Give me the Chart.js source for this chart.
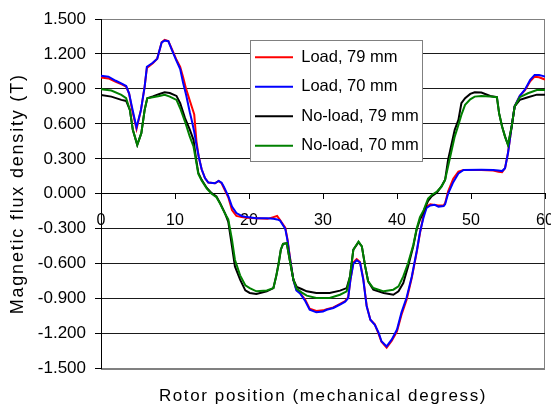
<!DOCTYPE html>
<html><head><meta charset="utf-8">
<script src="https://cdn.jsdelivr.net/npm/chart.js@4.4.1/dist/chart.umd.min.js"></script>
<style>html,body{margin:0;padding:0;background:#fff;}canvas{display:block;}</style>
</head><body>
<canvas id="c" width="551" height="411"></canvas>
<script>
const seriesNames = ['Load, 79 mm', 'Load, 70 mm', 'No-load, 79 mm', 'No-load, 70 mm'];
const xTitle = 'Rotor position (mechanical degress)';
const yTitle = 'Magnetic flux density (T)';
const xTicks = [0, 10, 20, 30, 40, 50, 60];
const yTicks = [-1.5, -1.2, -0.9, -0.6, -0.3, 0, 0.3, 0.6, 0.9, 1.2, 1.5];

const loadAngles = [0,1,2,2.8,3.4,3.8,4.2,4.8,5.4,5.9, 6.2,7,7.6,8.2,8.6,9.1,9.6,10.2,10.7,11.1, 11.5,12,12.3,12.6,12.9,13.2,13.6,14.05,14.5,15.4, 15.9,16.3,16.6,17.2,17.7,18.3,19,19.7,21,22.5, 23.3,23.8,24.2,24.9,25.2,25.5,26,26.4,26.9,27.6, 28.2,29.1,30,30.5,31.4,32.3,33,33.4,33.7,34.1, 34.55,35,35.45,35.9,36.4,37,37.5,37.9,38.6,39.3, 40,40.6,41.3,42,42.7,43.1,43.6,44,44.5,45.1, 45.6,46.3,46.5,46.9,47.6,48.3,49,51.4,53,53.7, 54.2,54.6,55,55.5,55.9,56.6,57.3,58,58.6,59.2, 59.8,60];
const load79 = [0.997,0.99,0.96,0.94,0.92,0.86,0.72,0.555,0.72,0.92, 1.08,1.12,1.16,1.30,1.32,1.31,1.24,1.15,1.09,1.0, 0.9,0.8,0.74,0.68,0.45,0.32,0.21,0.135,0.097,0.09, 0.11,0.09,0.05,-0.03,-0.14,-0.19,-0.2,-0.205,-0.21,-0.215, -0.2,-0.19,-0.225,-0.29,-0.39,-0.53,-0.74,-0.82,-0.85,-0.91, -0.985,-1.005,-1.0,-0.99,-0.975,-0.945,-0.92,-0.89,-0.74,-0.59, -0.56,-0.585,-0.73,-0.96,-1.08,-1.12,-1.2,-1.27,-1.32,-1.26, -1.18,-1.04,-0.91,-0.72,-0.49,-0.34,-0.18,-0.11,-0.09,-0.095, -0.1,-0.1,-0.08,0.02,0.13,0.19,0.205,0.205,0.2,0.19, 0.185,0.22,0.35,0.58,0.75,0.84,0.89,0.965,1.005,1.0, 0.985,0.98];
const load70 = [1.014,1.005,0.97,0.945,0.925,0.86,0.74,0.57,0.72,0.92, 1.09,1.125,1.16,1.30,1.315,1.31,1.23,1.14,1.07,0.95, 0.85,0.70,0.62,0.53,0.42,0.32,0.21,0.135,0.097,0.09, 0.11,0.095,0.06,-0.02,-0.11,-0.165,-0.19,-0.2,-0.21,-0.21, -0.215,-0.22,-0.23,-0.3,-0.4,-0.54,-0.74,-0.83,-0.855,-0.92, -0.995,-1.017,-1.01,-0.995,-0.98,-0.95,-0.925,-0.895,-0.74,-0.6, -0.57,-0.59,-0.74,-0.965,-1.08,-1.125,-1.19,-1.265,-1.31,-1.25, -1.165,-1.02,-0.89,-0.71,-0.48,-0.33,-0.2,-0.12,-0.1,-0.095, -0.11,-0.105,-0.09,0.0,0.10,0.175,0.205,0.206,0.205,0.2, 0.195,0.22,0.35,0.58,0.75,0.84,0.895,0.977,1.02,1.02, 1.01,1.005];

const noLoadAngles = [0,1.4,2.75,3.4,3.9,4.3,4.9,5.45,5.9,6.25, 7,7.9,8.6,9.3,10.2,10.7,11.35,12,12.5,12.85, 13.15,13.6,14.3,14.95,15.6,16.1,16.75,17.2,17.7,18.1, 18.8,19.5,20.1,21,22.4,23.3,23.7,24,24.3,24.6, 25.1,25.5,26,26.45,27.1,27.8,29.1,30.9,32.3,33.2, 33.65,34.1,34.8,35.25,35.7,36.1,36.8,38.2,39.5,40.2, 40.85,41.5,42.2,42.65,43.1,43.6,44.2,44.7,45.4,46, 46.5,46.9,47.4,47.8,48.3,48.7,49.2,49.9,50.5,51.4, 52.6,53.5,53.8,54.2,54.6,55,55.5,55.9,56.6,57.7, 58.9,60];
const noLoad79 = [0.849,0.834,0.806,0.797,0.72,0.55,0.42,0.52,0.72,0.82, 0.835,0.857,0.871,0.865,0.84,0.777,0.649,0.55,0.463,0.3, 0.18,0.12,0.05,0.006,-0.023,-0.08,-0.166,-0.24,-0.45,-0.623, -0.737,-0.829,-0.851,-0.86,-0.837,-0.809,-0.7,-0.6,-0.48,-0.43, -0.423,-0.566,-0.737,-0.8,-0.817,-0.837,-0.851,-0.851,-0.831,-0.809, -0.709,-0.48,-0.415,-0.451,-0.623,-0.751,-0.823,-0.851,-0.866,-0.837, -0.766,-0.623,-0.451,-0.309,-0.223,-0.151,-0.06,-0.02,0.01,0.063, 0.12,0.291,0.434,0.549,0.634,0.777,0.82,0.857,0.871,0.869, 0.84,0.829,0.69,0.577,0.491,0.42,0.577,0.75,0.806,0.829, 0.851,0.849];
const noLoad70 = [0.897,0.886,0.849,0.82,0.72,0.55,0.42,0.52,0.72,0.82, 0.829,0.84,0.849,0.834,0.806,0.734,0.62,0.49,0.406,0.28, 0.17,0.115,0.045,0.0,-0.03,-0.085,-0.17,-0.22,-0.394,-0.566, -0.70,-0.785,-0.81,-0.837,-0.829,-0.809,-0.7,-0.6,-0.48,-0.43, -0.423,-0.566,-0.737,-0.815,-0.846,-0.874,-0.894,-0.894,-0.866,-0.837, -0.709,-0.48,-0.41,-0.451,-0.623,-0.751,-0.809,-0.837,-0.823,-0.794, -0.709,-0.594,-0.44,-0.3,-0.2,-0.14,-0.04,-0.01,0.02,0.06, 0.12,0.234,0.377,0.491,0.591,0.677,0.763,0.811,0.834,0.84, 0.835,0.829,0.69,0.577,0.491,0.42,0.577,0.75,0.829,0.863, 0.891,0.891];

const pts = (xs, ys) => xs.map((x, i) => ({x: x, y: ys[i]}));
const FONT = "'Liberation Sans', Arial, sans-serif";

function withSpacing(obj, key, chart, spacing) {
  if (!obj || obj['_ls_' + key]) return;
  const orig = obj[key].bind(obj);
  obj[key] = function () {
    const ctx = chart.ctx;
    ctx.save();
    ctx.letterSpacing = spacing;
    orig.apply(null, arguments);
    ctx.restore();
  };
  obj['_ls_' + key] = true;
}

const plotFrame = {
  id: 'plotFrame',
  beforeDraw(chart) {
    const {ctx, chartArea: a} = chart;
    ctx.save();
    ctx.strokeStyle = '#808080';
    ctx.lineWidth = 1;
    ctx.strokeRect(Math.round(a.left) + 0.5, Math.round(a.top) + 0.5, Math.round(a.right - a.left) - 1, Math.round(a.bottom - a.top));
    ctx.restore();
  },
  afterLayout(chart) {
    const L = chart.legend;
    if (L) {
      L.left = 242; L.top = 36; L.width = 190; L.height = 145;
      L.right = L.left + L.width; L.bottom = L.top + L.height;
      if (!L._framed) {
        const orig = L.draw.bind(L);
        L.draw = function () {
          const ctx = chart.ctx;
          ctx.save();
          ctx.fillStyle = '#ffffff';
          ctx.strokeStyle = '#808080';
          ctx.lineWidth = 1;
          ctx.fillRect(250.5, 40.5, 172, 121);
          ctx.strokeRect(250.5, 40.5, 172, 121);
          ctx.restore();
          orig();
        };
        L._framed = true;
      }
    }
    withSpacing(chart.titleBlock, 'draw', chart, '1.6px');
    withSpacing(chart.scales.y, 'drawTitle', chart, '1.8px');
  }
};

new Chart(document.getElementById('c'), {
  type: 'line',
  data: {
    datasets: [
      {label: seriesNames[0], data: pts(loadAngles, load79), borderColor: '#ff0000', backgroundColor: '#ff0000', pointBorderWidth: 2, order: 4},
      {label: seriesNames[1], data: pts(loadAngles, load70), borderColor: '#0000ff', backgroundColor: '#0000ff', pointBorderWidth: 2, order: 3},
      {label: seriesNames[2], data: pts(noLoadAngles, noLoad79), borderColor: '#000000', backgroundColor: '#000000', pointBorderWidth: 2, order: 2},
      {label: seriesNames[3], data: pts(noLoadAngles, noLoad70), borderColor: '#008000', backgroundColor: '#008000', pointBorderWidth: 2, order: 1}
    ]
  },
  options: {
    responsive: false,
    animation: false,
    devicePixelRatio: 1,
    layout: {padding: {left: 0, right: 6, top: 19, bottom: 0}},
    elements: {point: {radius: 0}, line: {borderWidth: 2, tension: 0, fill: false}},
    plugins: {
      legend: {
        position: 'chartArea',
        align: 'start',
        labels: {
          usePointStyle: true, pointStyle: 'line', pointStyleWidth: 38,
          padding: 13, color: '#000',
          font: {family: FONT, size: 16.5},
          sort: (a, b) => a.datasetIndex - b.datasetIndex
        }
      },
      title: {
        display: true, position: 'bottom', fullSize: false, text: xTitle, color: '#000',
        font: {family: FONT, size: 17, weight: 'normal'},
        padding: {top: 18, bottom: 4}
      },
      tooltip: {enabled: false}
    },
    scales: {
      x: {
        type: 'linear', min: 0, max: 60,
        position: {y: 0},
        afterBuildTicks: s => { s.ticks = xTicks.map(v => ({value: v})); },
        afterFit: s => { s.height = 0; s.paddingLeft = 0; s.paddingRight = 0; },
        grid: {drawOnChartArea: false, drawTicks: true, tickLength: 5, color: '#000'},
        border: {color: '#000', width: 1},
        ticks: {color: '#000', font: {family: FONT, size: 16}, padding: 12, maxRotation: 0, autoSkip: false, callback: v => String(v)}
      },
      y: {
        type: 'linear', min: -1.5, max: 1.5, position: 'left',
        afterBuildTicks: s => { s.ticks = yTicks.map(v => ({value: v})); },
        afterFit: s => { s.width = 101; s.paddingTop = 0; s.paddingBottom = 0; },
        grid: {
          color: c => (c.tick && Math.abs(Math.abs(c.tick.value) - 1.5) < 1e-6) ? '#808080' : '#1a1a1a',
          tickColor: '#000', tickLength: 6, drawTicks: true
        },
        border: {color: '#000', width: 1},
        ticks: {color: '#000', font: {family: FONT, size: 17}, padding: 9, callback: v => Number(v).toFixed(3)},
        title: {display: true, text: yTitle, color: '#000', font: {family: FONT, size: 18}, padding: {top: 7, bottom: 0}}
      }
    }
  },
  plugins: [plotFrame]
});
</script>
</body></html>
